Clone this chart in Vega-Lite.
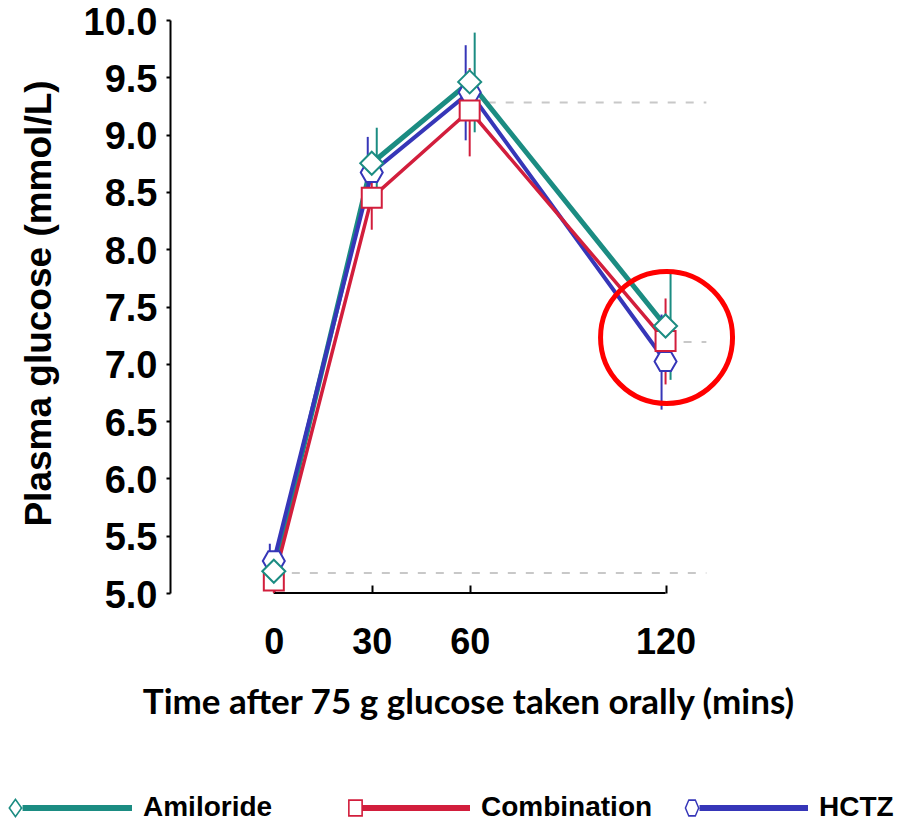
{
  "$schema": "https://vega.github.io/schema/vega-lite/v6.json",
  "width": 538,
  "height": 573,
  "autosize": {"type": "none"},
  "padding": {"left": 170, "top": 20, "right": 202, "bottom": 228},
  "background": "white",
  "config": {"view": {"stroke": null}},
  "datasets": {
    "glucose": [
      {"series": "Amiloride", "time": 0, "mean": 5.19, "lo": 5.07, "hi": 5.31},
      {"series": "Amiloride", "time": 30, "mean": 8.75, "lo": 8.44, "hi": 9.06},
      {"series": "Amiloride", "time": 60, "mean": 9.46, "lo": 9.02, "hi": 9.89},
      {"series": "Amiloride", "time": 120, "mean": 7.33, "lo": 6.86, "hi": 7.79},
      {"series": "HCTZ", "time": 0, "mean": 5.28, "lo": 5.13, "hi": 5.43},
      {"series": "HCTZ", "time": 30, "mean": 8.67, "lo": 8.36, "hi": 8.98},
      {"series": "HCTZ", "time": 60, "mean": 9.37, "lo": 8.95, "hi": 9.78},
      {"series": "HCTZ", "time": 120, "mean": 7.02, "lo": 6.6, "hi": 7.43},
      {"series": "Combination", "time": 0, "mean": 5.11, "lo": 5.0, "hi": 5.22},
      {"series": "Combination", "time": 30, "mean": 8.45, "lo": 8.17, "hi": 8.73},
      {"series": "Combination", "time": 60, "mean": 9.21, "lo": 8.81, "hi": 9.58},
      {"series": "Combination", "time": 120, "mean": 7.2, "lo": 6.82, "hi": 7.57}
    ],
    "refs": [
      {"time": 0, "time_end": 132.5, "mean": 5.175},
      {"time": 60, "time_end": 132.5, "mean": 9.28},
      {"time": 120, "time_end": 132.5, "mean": 7.19}
    ],
    "xline": [{"time": 0, "time_end": 120, "mean": 5}],
    "highlight": [{"time": 120.3, "mean": 7.23}]
  },
  "data": {"name": "glucose"},
  "encoding": {
    "x": {
      "field": "time", "type": "quantitative",
      "scale": {"domain": [-31.8, 133], "nice": false, "zero": false},
      "axis": {
        "values": [0, 30, 60, 120], "domain": false, "grid": false,
        "tickSize": -8, "tickWidth": 2, "tickColor": "black",
        "labelFont": "Liberation Sans", "labelFontSize": 36, "labelFontWeight": "bold", "labelColor": "black",
        "labelPadding": 40, "labelFlush": false,
        "title": "Time after 75 g glucose taken orally (mins)",
        "titleFont": "Lato", "titleFontSize": 35, "titleFontWeight": "bold", "titleColor": "black",
        "titleX": 298, "titleY": 120, "titleAlign": "center", "titleBaseline": "alphabetic"
      }
    },
    "y": {
      "field": "mean", "type": "quantitative",
      "scale": {"domain": [5, 10], "nice": false, "zero": false},
      "axis": {
        "values": [5, 5.5, 6, 6.5, 7, 7.5, 8, 8.5, 9, 9.5, 10], "format": ".1f",
        "grid": false, "domainColor": "black", "domainWidth": 2,
        "tickSize": 4, "tickWidth": 2, "tickColor": "black",
        "labelFont": "Liberation Sans", "labelFontSize": 38, "labelFontWeight": "bold", "labelColor": "black",
        "labelPadding": 9, "labelOffset": 3, "labelFlush": false,
        "title": "Plasma glucose (mmol/L)",
        "titleFont": "Liberation Sans", "titleFontSize": 37, "titleFontWeight": "bold", "titleColor": "black",
        "titleAngle": 270, "titleX": -120, "titleY": 283, "titleAlign": "center", "titleBaseline": "alphabetic"
      }
    }
  },
  "layer": [
    {
      "data": {"name": "refs"},
      "mark": {"type": "rule", "color": "#c8c8c8", "strokeWidth": 2, "strokeDash": [8, 10]},
      "encoding": {"x2": {"field": "time_end"}}
    },
    {
      "data": {"name": "xline"},
      "mark": {"type": "rule", "color": "black", "strokeWidth": 2},
      "encoding": {"x2": {"field": "time_end"}}
    },
    {
      "transform": [{"filter": "datum.series === 'Amiloride'"}],
      "mark": {"type": "line", "strokeWidth": 5},
      "encoding": {
        "color": {
          "field": "series", "type": "nominal",
          "scale": {"domain": ["Amiloride", "Combination", "HCTZ"], "range": ["#1b8c82", "#d21e3c", "#3636b8"]},
          "legend": {
            "orient": "none", "legendX": -162, "legendY": 726,
            "direction": "horizontal", "columns": 3, "gridAlign": "all", "columnPadding": 31, "rowPadding": 0,
            "title": null, "padding": 0,
            "symbolSize": 15376, "symbolStrokeWidth": 0, "symbolType": "square",
            "labelOffset": 11, "labelLimit": 400,
            "labelFont": "Liberation Sans", "labelFontSize": 28, "labelFontWeight": "bold", "labelColor": "black",
            "encode": {
              "symbols": {
                "update": {
                  "shape": {"signal": "datum.value === 'Amiloride' ? 'M-0.995,0 L-0.88,-0.16 L-0.765,0 L-0.88,0.16 Z M-0.963,0 L-0.88,0.1155 L-0.797,0 L-0.88,-0.1155 Z M-0.765,-0.048 L1,-0.048 L1,0.048 L-0.765,0.048 Z' : datum.value === 'Combination' ? 'M-0.967,-0.14 L-0.727,-0.14 L-0.727,0.14 L-0.967,0.14 Z M-0.941,-0.114 L-0.941,0.114 L-0.753,0.114 L-0.753,-0.114 Z M-0.727,-0.048 L1,-0.048 L1,0.048 L-0.727,0.048 Z' : 'M-0.99,0 L-0.93,-0.14 L-0.81,-0.14 L-0.75,0 L-0.81,0.14 L-0.93,0.14 Z M-0.964,0 L-0.917,0.114 L-0.823,0.114 L-0.776,0 L-0.823,-0.114 L-0.917,-0.114 Z M-0.75,-0.048 L1,-0.048 L1,0.048 L-0.75,0.048 Z'"},
                  "fill": {"signal": "scale('color', datum.value)"},
                  "stroke": {"value": "transparent"},
                  "strokeWidth": {"value": 0},
                  "size": {"value": 15376},
                  "opacity": {"value": 1},
                  "fillOpacity": {"value": 1}
                }
              }
            }
          }
        }
      }
    },
    {
      "transform": [{"filter": "datum.series === 'HCTZ'"}],
      "mark": {"type": "line", "strokeWidth": 4},
      "encoding": {"color": {"field": "series", "type": "nominal"}}
    },
    {
      "transform": [{"filter": "datum.series === 'Combination'"}],
      "mark": {"type": "line", "strokeWidth": 3.5},
      "encoding": {"color": {"field": "series", "type": "nominal"}}
    },
    {
      "transform": [{"filter": "datum.series === 'Amiloride'"}],
      "mark": {"type": "rule", "color": "#1b8c82", "strokeWidth": 2, "xOffset": 5},
      "encoding": {
        "y": {"field": "lo", "type": "quantitative", "title": "Plasma glucose (mmol/L)"},
        "y2": {"field": "hi"}
      }
    },
    {
      "transform": [{"filter": "datum.series === 'HCTZ'"}],
      "mark": {"type": "rule", "color": "#3636b8", "strokeWidth": 2, "xOffset": -4},
      "encoding": {
        "y": {"field": "lo", "type": "quantitative", "title": "Plasma glucose (mmol/L)"},
        "y2": {"field": "hi"}
      }
    },
    {
      "transform": [{"filter": "datum.series === 'Combination'"}],
      "mark": {"type": "rule", "color": "#d21e3c", "strokeWidth": 2, "xOffset": 0},
      "encoding": {
        "y": {"field": "lo", "type": "quantitative", "title": "Plasma glucose (mmol/L)"},
        "y2": {"field": "hi"}
      }
    },
    {
      "transform": [{"filter": "datum.series === 'HCTZ'"}],
      "mark": {"type": "point", "shape": "M-1,0 L-0.5,-0.87 L0.5,-0.87 L1,0 L0.5,0.87 L-0.5,0.87 Z", "size": 484, "filled": true, "fill": "white", "fillOpacity": 1, "stroke": "#3636b8", "strokeWidth": 2, "opacity": 1}
    },
    {
      "transform": [{"filter": "datum.series === 'Combination'"}],
      "mark": {"type": "point", "shape": "square", "size": 400, "filled": true, "fill": "white", "fillOpacity": 1, "stroke": "#d21e3c", "strokeWidth": 2, "opacity": 1}
    },
    {
      "transform": [{"filter": "datum.series === 'Amiloride'"}],
      "mark": {"type": "point", "shape": "diamond", "size": 530, "filled": true, "fill": "white", "fillOpacity": 1, "stroke": "#1b8c82", "strokeWidth": 2, "opacity": 1}
    },
    {
      "data": {"name": "highlight"},
      "mark": {"type": "point", "shape": "circle", "size": 17424, "filled": false, "stroke": "#ff0000", "strokeWidth": 5, "opacity": 1}
    }
  ]
}
